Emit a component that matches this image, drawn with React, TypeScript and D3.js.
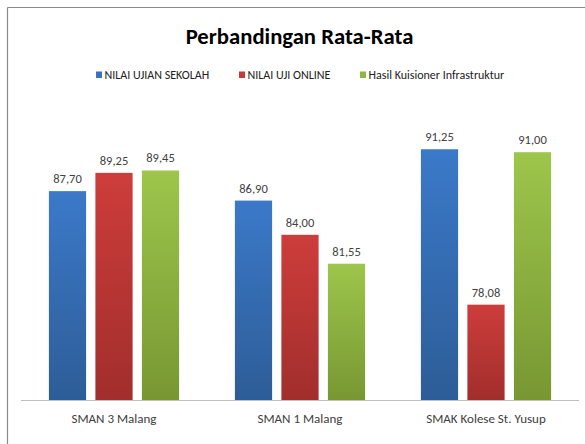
import React from "react";
import * as d3 from "d3";

const categories = ["SMAN 3 Malang", "SMAN 1 Malang", "SMAK Kolese St. Yusup"];
const seriesNames = ["NILAI UJIAN SEKOLAH", "NILAI UJI ONLINE", "Hasil Kuisioner Infrastruktur"];
const nilaiUjianSekolah = [87.7, 86.9, 91.25];
const nilaiUjiOnline = [89.25, 84.0, 78.08];
const hasilKuisioner = [89.45, 81.55, 91.0];
const seriesValues = [nilaiUjianSekolah, nilaiUjiOnline, hasilKuisioner];
const topColors = ["#3b79c9", "#cd3d3b", "#9dc64b"];
const bottomColors = ["#2d5d97", "#a12e2c", "#789733"];
const legendColors = ["#3a72bd", "#c63a38", "#8fb842"];

const W = 585;
const H = 444;
const FONT = "Carlito, Lato, 'Open Sans', sans-serif";

export default function App() {
  const x0 = d3.scaleBand<string>().domain(categories).range([21, 579]).paddingInner(0.3).paddingOuter(0.15);
  const x1 = d3.scaleBand<string>().domain(seriesNames).range([0, x0.bandwidth()]).paddingInner(0.2).paddingOuter(0);
  const y = d3.scaleLinear().domain([70, 95]).range([400, 400 - 25 * 11.8]);
  const fmt = (v: number) => v.toFixed(2).replace(".", ",");

  const legendX = [96, 239, 360];

  return (
    <svg width={W} height={H} style={{ position: "absolute", left: 0, top: 0, background: "#fff" }}>
      <defs>
        {seriesNames.map((s, i) => (
          <linearGradient key={s} id={`g${i}`} x1="0" y1="0" x2="0" y2="1">
            <stop offset="0%" stopColor={topColors[i]} />
            <stop offset="100%" stopColor={bottomColors[i]} />
          </linearGradient>
        ))}
      </defs>
      <line x1={7.5} y1={7.5} x2={7.5} y2={H} stroke="#8a8a8a" strokeWidth={1.2} />
      <line x1={7.5} y1={7.5} x2={W} y2={7.5} stroke="#8a8a8a" strokeWidth={1.2} />
      <text x={299.5} y={44} textAnchor="middle" fontFamily={FONT} fontWeight="bold" fontSize={22.7} fill="#000">
        Perbandingan Rata-Rata
      </text>
      {seriesNames.map((s, i) => (
        <g key={s}>
          <rect x={legendX[i]} y={71.5} width={6} height={6.5} fill={legendColors[i]} />
          <text x={legendX[i] + 8.5} y={78.5} fontFamily={FONT} fontSize={12} fill="#222">
            {s}
          </text>
        </g>
      ))}
      {categories.map((c, ci) => (
        <g key={c} transform={`translate(${x0(c)},0)`}>
          {seriesNames.map((s, si) => {
            const v = seriesValues[si][ci];
            const bx = x1(s)!;
            return (
              <g key={s}>
                <rect x={bx} y={y(v)} width={x1.bandwidth()} height={400 - y(v)} fill={`url(#g${si})`} />
                <text
                  x={bx + x1.bandwidth() / 2}
                  y={y(v) - 8}
                  textAnchor="middle"
                  fontFamily={FONT}
                  fontSize={12.5}
                  fill="#404040"
                >
                  {fmt(v)}
                </text>
              </g>
            );
          })}
          <text x={x0.bandwidth() / 2} y={423} textAnchor="middle" fontFamily={FONT} fontSize={13} fill="#404040">
            {c}
          </text>
        </g>
      ))}
      <line x1={21} y1={400.5} x2={579} y2={400.5} stroke="#c0c0c0" strokeWidth={1.2} />
    </svg>
  );
}
